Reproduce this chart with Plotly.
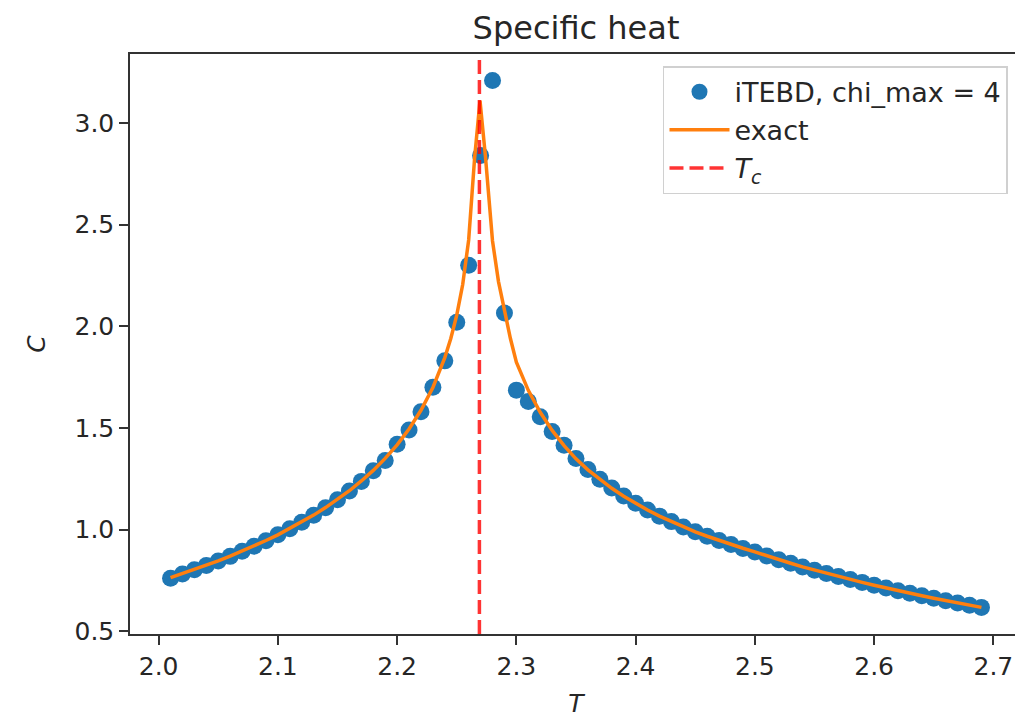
import plotly.graph_objects as go

# ---- data ----
T_itebd = [2.01, 2.02, 2.03, 2.04, 2.05, 2.06, 2.07, 2.08, 2.09, 2.10,
           2.11, 2.12, 2.13, 2.14, 2.15, 2.16, 2.17, 2.18, 2.19, 2.20,
           2.21, 2.22, 2.23, 2.24, 2.25, 2.26, 2.27, 2.28, 2.29, 2.30,
           2.31, 2.32, 2.33, 2.34, 2.35, 2.36, 2.37, 2.38, 2.39, 2.40,
           2.41, 2.42, 2.43, 2.44, 2.45, 2.46, 2.47, 2.48, 2.49, 2.50,
           2.51, 2.52, 2.53, 2.54, 2.55, 2.56, 2.57, 2.58, 2.59, 2.60,
           2.61, 2.62, 2.63, 2.64, 2.65, 2.66, 2.67, 2.68, 2.69]
C_itebd = [0.760, 0.781, 0.802, 0.823, 0.845, 0.868, 0.893, 0.918, 0.945, 0.974,
           1.004, 1.036, 1.070, 1.107, 1.147, 1.190, 1.237, 1.289, 1.340, 1.420,
           1.490, 1.580, 1.700, 1.830, 2.020, 2.300, 2.840, 3.210, 2.065, 1.686,
           1.630, 1.555, 1.482, 1.415, 1.350, 1.296, 1.247, 1.204, 1.165, 1.129,
           1.096, 1.066, 1.039, 1.013, 0.989, 0.967, 0.946, 0.926, 0.907, 0.889,
           0.870, 0.851, 0.834, 0.816, 0.800, 0.784, 0.769, 0.754, 0.740, 0.726,
           0.712, 0.699, 0.686, 0.674, 0.662, 0.650, 0.639, 0.628, 0.617]

T_exact = [2.01, 2.02, 2.03, 2.04, 2.05, 2.06, 2.07, 2.08, 2.09, 2.10,
           2.11, 2.12, 2.13, 2.14, 2.15, 2.16, 2.17, 2.18, 2.19, 2.20,
           2.21, 2.22, 2.23, 2.24, 2.245, 2.25, 2.255, 2.26, 2.265, 2.2695,
           2.274, 2.28, 2.285, 2.29, 2.295, 2.30,
           2.31, 2.32, 2.33, 2.34, 2.35, 2.36, 2.37, 2.38, 2.39, 2.40,
           2.41, 2.42, 2.43, 2.44, 2.45, 2.46, 2.47, 2.48, 2.49, 2.50,
           2.51, 2.52, 2.53, 2.54, 2.55, 2.56, 2.57, 2.58, 2.59, 2.60,
           2.61, 2.62, 2.63, 2.64, 2.65, 2.66, 2.67, 2.68, 2.69]
C_exact = [0.763, 0.783, 0.803, 0.824, 0.846, 0.869, 0.894, 0.919, 0.946, 0.974,
           1.005, 1.037, 1.071, 1.108, 1.148, 1.191, 1.239, 1.291, 1.350, 1.417,
           1.495, 1.587, 1.699, 1.846, 1.940, 2.055, 2.206, 2.425, 2.830, 3.110,
           2.840, 2.420, 2.220, 2.070, 1.940, 1.823,
           1.685, 1.577, 1.488, 1.413, 1.348, 1.294, 1.246, 1.203, 1.164, 1.128,
           1.096, 1.066, 1.039, 1.013, 0.989, 0.967, 0.946, 0.926, 0.908, 0.890,
           0.870, 0.851, 0.834, 0.816, 0.800, 0.784, 0.769, 0.754, 0.740, 0.726,
           0.712, 0.699, 0.686, 0.674, 0.662, 0.650, 0.639, 0.628, 0.617]

Tc = 2.269

x_ticks = [2.0, 2.1, 2.2, 2.3, 2.4, 2.5, 2.6, 2.7]
y_ticks = [0.5, 1.0, 1.5, 2.0, 2.5, 3.0]

FONT = "DejaVu Sans"
TXT = "#262626"
FRAME = "#333333"
RED = "rgba(255,0,0,0.8)"

W, H = 1015, 712   # page body has an 8px margin

fig = go.Figure()
fig.add_trace(go.Scatter(
    x=T_itebd, y=C_itebd, mode="markers", name="iTEBD, chi_max = 4",
    marker=dict(color="#1f77b4", size=17, line=dict(width=0))))
fig.add_trace(go.Scatter(
    x=T_exact, y=C_exact, mode="lines", name="exact",
    line=dict(color="#ff7f0e", width=3.5)))
fig.add_trace(go.Scatter(
    x=[None], y=[None], mode="lines", name="<i>T</i><sub><i>c</i></sub>",
    line=dict(color=RED, width=3.5, dash="14px,6px")))

fig.add_vline(x=Tc, line=dict(color=RED, width=3.5, dash="14px,6px"),
              layer="above")

fig.update_layout(
    width=W, height=H,
    margin=dict(l=122, r=1, t=46, b=86, autoexpand=False),
    paper_bgcolor="white", plot_bgcolor="white",
    font=dict(family=FONT, size=25, color=TXT),
    title=dict(text="Specific heat", x=0.5, xref="paper", y=1 - 20 / H,
               yref="container", xanchor="center", yanchor="middle",
               font=dict(family=FONT, size=32, color=TXT)),
    showlegend=True,
    legend=dict(x=0.9843, y=0.979, xanchor="right", yanchor="top",
                bgcolor="rgba(255,255,255,0.8)", bordercolor="#d0d0d0",
                borderwidth=1.5, font=dict(family=FONT, size=27, color=TXT),
                itemwidth=60, tracegroupgap=0),
)
fig.update_xaxes(
    range=[1.976, 2.724], tickvals=x_ticks, tickformat=".1f",
    ticks="outside", ticklen=9, tickwidth=1.5, tickcolor=FRAME,
    showline=True, mirror=True, linecolor=FRAME, linewidth=1.5,
    showgrid=False, zeroline=False, automargin=False,
    title=dict(text="<i>T</i>", font=dict(family=FONT, size=25, color=TXT), standoff=15),
    tickfont=dict(family=FONT, size=25, color=TXT))
fig.update_yaxes(
    range=[0.486, 3.340], tickvals=y_ticks, tickformat=".1f",
    ticks="outside", ticklen=9, tickwidth=1.5, tickcolor=FRAME,
    showline=True, mirror=True, linecolor=FRAME, linewidth=1.5,
    showgrid=False, zeroline=False, automargin=False,
    title=dict(text="<i>C</i>", font=dict(family=FONT, size=25, color=TXT), standoff=22),
    tickfont=dict(family=FONT, size=25, color=TXT))

fig.write_html("out.html")
